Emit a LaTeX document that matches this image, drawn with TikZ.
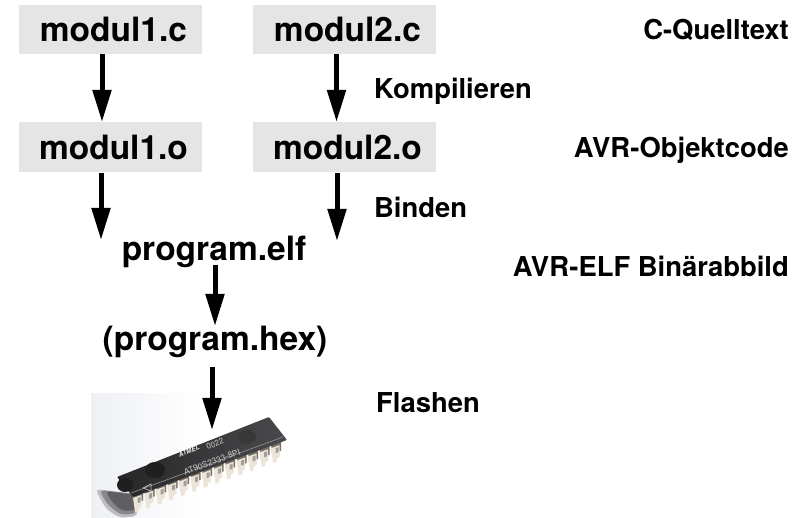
\documentclass[tikz,border=0pt]{standalone}
\usepackage{fontspec}
\setmainfont{TeX Gyre Heros}
\usetikzlibrary{arrows.meta}
\definecolor{boxgrey}{RGB}{229,229,229}
\definecolor{pinlight}{RGB}{236,228,214}
\definecolor{pindark}{RGB}{120,112,102}
\definecolor{bodydark}{RGB}{38,38,38}
\definecolor{bodyend}{RGB}{74,74,78}
\definecolor{photoleft}{RGB}{238,240,244}
\definecolor{shadowsoft}{RGB}{190,190,192}
\definecolor{shadowmid}{RGB}{135,135,137}
\definecolor{shadowdeep}{RGB}{95,95,97}
\tikzset{
 filebox/.style={fill=boxgrey,minimum width=183pt,minimum height=49pt,inner sep=0pt,font=\fontsize{33.5}{36}\selectfont\bfseries},
 plainfile/.style={inner sep=0pt,font=\fontsize{33.5}{36}\selectfont\bfseries},
 caption/.style={inner sep=0pt,font=\fontsize{27.4}{30}\selectfont\bfseries},
 flow/.style={line width=5pt,-{Triangle[length=32pt,width=18pt]}},
 chiptext/.style={rotate=21,inner sep=0pt,text=black!22},
}
\begin{document}
\begin{tikzpicture}[x=1pt,y=-1pt]
\useasboundingbox (0,0) rectangle (809,518);
\node[filebox] (m1c) at (110.5,29.5) {\hspace*{6pt}modul1.c};
\node[filebox] (m2c) at (344.5,29.5) {\hspace*{6pt}modul2.c};
\node[filebox,minimum height=50pt] (m1o) at (110.5,147) {\hspace*{6pt}modul1.o};
\node[filebox,minimum height=50pt] (m2o) at (344.5,147) {\hspace*{6pt}modul2.o};
\node[plainfile] (elf) at (214,252) {program.elf};
\node[plainfile] (hex) at (215,342) {(program.hex)};
\node[caption,anchor=east] (c1) at (789,30) {C-Quelltext};
\node[caption,anchor=west] (c2) at (374,91) {Kompilieren};
\node[caption,anchor=east] (c3) at (789,150) {AVR-Objektcode};
\node[caption,anchor=west] (c4) at (374,207) {Binden};
\node[caption,anchor=east] (c5) at (789,266) {AVR-ELF Binärabbild};
\node[caption,anchor=west] (c6) at (376,403) {Flashen};
\coordinate (e1) at (101,240);
\coordinate (e2) at (337,241);
\coordinate (chip) at (212,430);
% photo
\shade[left color=photoleft,right color=white] (91,394) rectangle (200,518);
% shadow
\fill[shadowsoft,rounded corners=5pt] (95,489) -- (136,494) -- (138,516) -- (120,518) -- (106,509) -- cycle;
\fill[shadowmid,rounded corners=5pt] (99,490) -- (136,494) -- (138,513) -- (121,515) -- (108,505) -- cycle;
\fill[shadowdeep,rounded corners=5pt] (105,491) -- (136,495) -- (138,510) -- (122,511) -- (112,502) -- cycle;
% pins
\foreach \i in {0,...,12}{
 \fill[pindark] ({133+\i*11.5},{493-\i*4.15}) -- ++(10,-3.5) -- ++(0,11) -- ++(-9,3) -- cycle;
 \fill[pinlight] ({133+\i*11.5},{498-\i*4.15}) -- ++(8.5,-3) -- ++(.5,11) -- ++(-3,2) -- ++(-.5,4) -- ++(-3.5,0.5) -- ++(-.5,-4) -- cycle;
 \fill[black!38] ({137.5+\i*11.5},{503-\i*4.15}) -- ++(3,-1) -- ++(0,-5) -- ++(-3,1) -- cycle;
}
% body
\shade[left color=bodydark,right color=bodyend,rounded corners=1pt] (117,477) -- (269,417) -- (287,440) -- (133,497) -- cycle;
\draw[black!45,line width=.7pt] (131,493) -- (283,437);
\fill[black!88] (125,485) ellipse [x radius=8pt,y radius=7pt];
\fill[black!88] (155,470) ellipse [x radius=10pt,y radius=8pt];
\fill[black!78] (247,437) ellipse [x radius=9pt,y radius=7pt];
\node[chiptext,text=black!8,font=\fontsize{6.5}{7}\selectfont\bfseries\itshape] (t0) at (189,451) {ATMEL};
\node[chiptext,font=\fontsize{8}{9}\selectfont] (t2) at (215,444) {0022};
\node[chiptext,font=\fontsize{8.5}{9}\selectfont] (t1) at (212,462) {AT90S2333-8PI};
\draw[black!25,line width=.7pt] (143,488) -- (151,484) -- (151,491) -- cycle;
% arrows
\draw[flow] (102,54) -- (102,122);
\draw[flow] (336.5,54) -- (336.5,122);
\draw[flow] (101,173) -- (e1);
\draw[flow] (337,173) -- (e2);
\draw[flow] (215,265) -- (215,326);
\draw[flow] (212,367) -- (chip);
\end{tikzpicture}
\end{document}
